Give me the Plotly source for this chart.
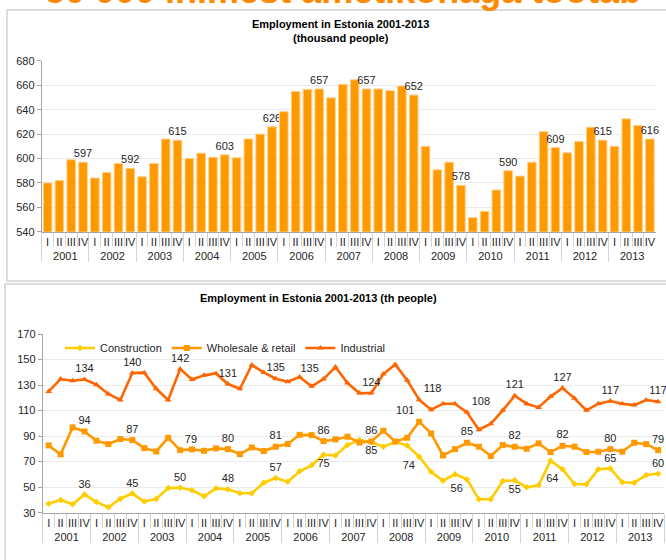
import plotly.graph_objects as go

years = [str(y) for y in range(2001, 2014)]
quarters = ["I", "II", "III", "IV"]

total = [580, 582, 599, 597, 584, 588.5, 596, 592, 585, 596, 616, 615,
         600, 604.4, 601, 603, 600.6, 616, 620, 626, 638.4, 655, 656.7, 657,
         649.7, 660.8, 664.5, 657, 657, 655.6, 659.4, 652, 610, 590.7, 597, 578,
         551.6, 556.7, 574.2, 590, 585.6, 597, 622, 609, 604.7, 614, 625.7, 615,
         610, 632.5, 627, 616]
total_labels = ["597", "592", "615", "603", "626", "657", "657", "652", "578",
                "590", "609", "615", "616"]

construction = [37, 40, 36.6, 44.3, 38.3, 34.3, 41, 45, 38.7, 40.8, 49.4, 49.6,
                47.6, 42.9, 49.1, 48.3, 45.2, 45.2, 53.5, 57.2, 54.3, 62.4, 67.1, 75.4,
                74.9, 83, 86.9, 85.3, 81.7, 85.3, 82.7, 73.9, 62.1, 55.1, 60.1, 56.1,
                40.5, 40.5, 54.8, 55.4, 49.9, 51.5, 70.7, 64, 52.5, 52.2, 64, 64.7,
                53.8, 53.5, 59.5, 60.6]
construction_labels = ["36", "45", "50", "48", "57", "75", "85", "74", "56", "55",
                       "64", "65", "60"]

wholesale = [82.7, 75.7, 96.8, 93.6, 86.4, 83.75, 87.7, 86.9, 80.6, 78, 88.7, 79,
             79.6, 78.5, 80.4, 79.8, 75.9, 81.1, 78.3, 81.7, 83.75, 91, 90.8, 86.1,
             87.4, 89.5, 85, 85.8, 94.2, 85.8, 88.7, 101.2, 92.1, 74.9, 79.8, 84.8,
             81.7, 74.4, 83, 81.7, 80.1, 84.3, 77.5, 82.4, 81.7, 77.5, 77.8, 79.8,
             77.8, 84.8, 83.75, 79]
wholesale_labels = ["94", "87", "79", "80", "81", "86", "86", "101", "85", "82",
                    "82", "80", "79"]

industrial = [125, 134.7, 133.4, 134.4, 130.3, 123, 118.3, 139.4, 139.7, 127.1, 118.3, 142.5,
              134.4, 137.6, 139.1, 130.8, 127.1, 145.7, 139.9, 135, 132.6, 136.3, 129, 134.7,
              144.1, 131.6, 123.7, 123.7, 138.6, 146.2, 133.7, 118.5, 110.7, 115.4, 115.4, 108.6,
              95, 99.7, 110.2, 121.6, 115.4, 112.5, 121.1, 127.6, 119.6, 110.2, 115.4, 117.5,
              115.4, 114.3, 118.3, 117]
industrial_labels = ["134", "140", "142", "131", "135", "135", "124", "118", "108",
                     "121", "127", "117", "117"]

# ---- helpers -------------------------------------------------------------
x_years = [y for y in years for _ in quarters]
x_quarters = [q for _ in years for q in quarters]
xcat = [x_years, x_quarters]


def q4_text(labels):
    out = []
    for lab in labels:
        out += ["", "", "", lab]
    return out


def q4_pos(special, default="top center"):
    out = []
    for i in range(len(years)):
        out += [default, default, default, special.get(i, default)]
    return out


FONT = "Liberation Sans, Arial, sans-serif"
TXT = "#262626"

fig = go.Figure()

fig.add_trace(go.Bar(
    x=xcat, y=total, xaxis="x", yaxis="y",
    marker=dict(color="#FF9900", line=dict(color="#FFD18A", width=1)),
    text=q4_text(total_labels), textposition="outside", cliponaxis=False,
    constraintext="none",
    textfont=dict(size=11, color=TXT, family=FONT),
    showlegend=False, name="Total",
))

fig.add_trace(go.Scatter(
    x=xcat, y=construction, xaxis="x2", yaxis="y2", name="Construction",
    mode="lines+markers+text",
    line=dict(color="#FFCC00", width=2.6),
    marker=dict(symbol="diamond", size=5, color="#FFCC00"),
    text=q4_text(construction_labels),
    textposition=q4_pos({5: "bottom center", 6: "bottom center", 7: "bottom left",
                         8: "bottom left", 9: "bottom center", 10: "bottom left"}),
    textfont=dict(size=11, color=TXT, family=FONT), cliponaxis=False,
))
fig.add_trace(go.Scatter(
    x=xcat, y=wholesale, xaxis="x2", yaxis="y2", name="Wholesale & retail",
    mode="lines+markers+text",
    line=dict(color="#FF9900", width=2.6),
    marker=dict(symbol="square", size=6, color="#FF9900"),
    text=q4_text(wholesale_labels),
    textposition=q4_pos({2: "top right", 7: "top left"}),
    textfont=dict(size=11, color=TXT, family=FONT), cliponaxis=False,
))
fig.add_trace(go.Scatter(
    x=xcat, y=industrial, xaxis="x2", yaxis="y2", name="Industrial",
    mode="lines+markers+text",
    line=dict(color="#FF6600", width=2.6),
    marker=dict(symbol="triangle-up", size=6, color="#FF6600"),
    text=q4_text(industrial_labels),
    textposition=q4_pos({5: "top left", 7: "top right", 8: "top right"}),
    textfont=dict(size=11, color=TXT, family=FONT), cliponaxis=False,
))

W, H = 666, 560


def px_x(x):
    return x / W


def px_y(y):
    return 1 - y / H


xaxis_common = dict(
    type="multicategory", showline=True, linecolor="#a6a6a6", linewidth=1,
    ticks="outside", tickson="boundaries", ticklen=14, tickcolor="#d4d4d4",
    tickangle=0, tickmode="linear", tick0=0, dtick=1,
    showdividers=True, dividercolor="#d4d4d4", dividerwidth=1,
    tickfont=dict(size=11, color=TXT, family=FONT),
    range=[-0.5, 51.5], automargin=False, showgrid=False, zeroline=False,
    fixedrange=True,
)
yaxis_common = dict(
    showline=True, linecolor="#a6a6a6", linewidth=1, ticks="outside", ticklen=4,
    tickcolor="#a6a6a6", gridcolor="#ebebeb", gridwidth=1, dtick=20,
    tickfont=dict(size=11, color=TXT, family=FONT), automargin=False,
    zeroline=False, fixedrange=True,
)

fig.update_layout(
    width=W, height=H,
    margin=dict(l=0, r=0, t=0, b=0),
    paper_bgcolor="white", plot_bgcolor="white",
    font=dict(family=FONT, size=11, color=TXT),
    template="none",
    bargap=0.27,
    xaxis=dict(domain=[px_x(41.7), px_x(655.8)], anchor="y", **xaxis_common),
    yaxis=dict(domain=[px_y(231.7), px_y(60.9)], anchor="x", range=[540, 680],
               tick0=540, **yaxis_common),
    xaxis2=dict(domain=[px_x(42.7), px_x(664.1)], anchor="y2", **xaxis_common),
    yaxis2=dict(domain=[px_y(512.7), px_y(334)], anchor="x2", range=[30, 170],
                tick0=30, **yaxis_common),
    legend=dict(orientation="h", x=px_x(60), xanchor="left", y=px_y(348), yanchor="middle",
                font=dict(size=11, color=TXT, family=FONT), bgcolor="rgba(0,0,0,0)",
                traceorder="normal"),
    annotations=[
        dict(text="<b>Employment in Estonia 2001-2013<br>(thousand people)</b>",
             xref="paper", yref="paper", x=px_x(340), y=px_y(31), xanchor="center",
             yanchor="middle", showarrow=False, font=dict(size=11, color="#000", family=FONT)),
        dict(text="<b>Employment in Estonia 2001-2013 (th people)</b>",
             xref="paper", yref="paper", x=px_x(318), y=px_y(298), xanchor="center",
             yanchor="middle", showarrow=False, font=dict(size=11, color="#000", family=FONT)),
        dict(text="<b>50 000 inimest ametikohaga töötab</b>",
             xref="paper", yref="paper", x=px_x(43), y=px_y(13), xanchor="left",
             yanchor="bottom", showarrow=False, font=dict(size=36, color="#FF8A00", family=FONT)),
    ],
    shapes=[
        dict(type="rect", xref="paper", yref="paper", x0=px_x(7), x1=px_x(700),
             y0=px_y(281), y1=px_y(10), line=dict(color="#dcdcdc", width=2), layer="below"),
        dict(type="rect", xref="paper", yref="paper", x0=px_x(5), x1=px_x(700),
             y0=px_y(600), y1=px_y(284), line=dict(color="#dcdcdc", width=2), layer="below"),
    ],
)

fig.write_html("out.html", config={"displayModeBar": False},
               post_script="document.body.style.margin='0';")
